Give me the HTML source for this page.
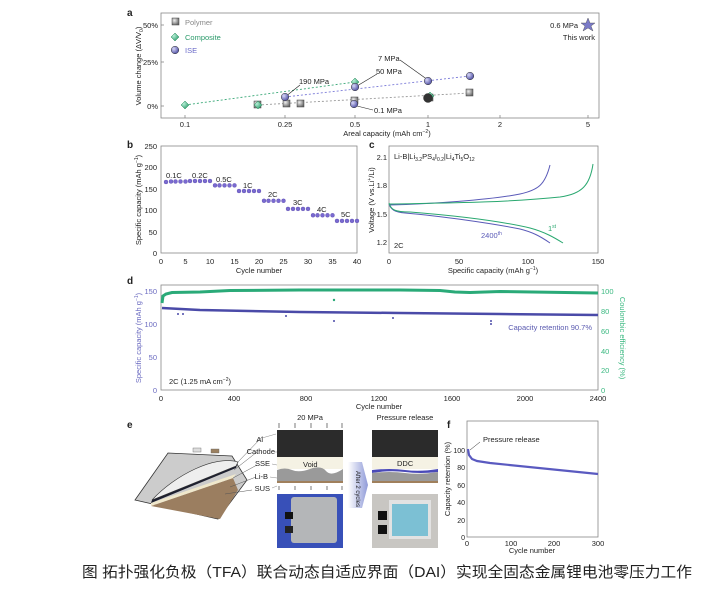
<!DOCTYPE html>
<html><head><meta charset="utf-8"><style>
html,body{margin:0;padding:0;background:#fff;}
svg{display:block;font-family:"Liberation Sans","Noto Sans CJK SC",sans-serif;}
</style></head><body>
<svg width="712" height="598" viewBox="0 0 712 598" xmlns="http://www.w3.org/2000/svg">
<defs>
<radialGradient id="gs" cx="0.35" cy="0.35" r="0.7"><stop offset="0" stop-color="#eee"/><stop offset="1" stop-color="#666"/></radialGradient>
<radialGradient id="gc" cx="0.35" cy="0.35" r="0.7"><stop offset="0" stop-color="#b8f0d8"/><stop offset="1" stop-color="#2a9a6a"/></radialGradient>
<radialGradient id="gi" cx="0.35" cy="0.35" r="0.7"><stop offset="0" stop-color="#d8d8f8"/><stop offset="1" stop-color="#4a4aa0"/></radialGradient>
<linearGradient id="arr" x1="0" x2="1"><stop offset="0" stop-color="#fff"/><stop offset="1" stop-color="#8f9ad8"/></linearGradient>
</defs>
<g font-size="8" fill="#222">
<!-- ===== panel a ===== -->
<text x="127" y="16" font-size="10" font-weight="bold">a</text>
<rect x="161" y="13" width="438" height="105" fill="none" stroke="#888" stroke-width="0.8"/>
<g font-size="7.5" text-anchor="end">
<text x="158" y="28">50%</text><text x="158" y="65">25%</text><text x="158" y="109">0%</text>
</g>
<g stroke="#888" stroke-width="0.8"><line x1="161" y1="25" x2="164" y2="25"/><line x1="161" y1="62" x2="164" y2="62"/><line x1="161" y1="106" x2="164" y2="106"/>
<line x1="185" y1="118" x2="185" y2="115"/><line x1="285" y1="118" x2="285" y2="115"/><line x1="355" y1="118" x2="355" y2="115"/><line x1="428" y1="118" x2="428" y2="115"/><line x1="500" y1="118" x2="500" y2="115"/><line x1="588" y1="118" x2="588" y2="115"/></g>
<g font-size="7.5" text-anchor="middle">
<text x="185" y="127">0.1</text><text x="285" y="127">0.25</text><text x="355" y="127">0.5</text><text x="428" y="127">1</text><text x="500" y="127">2</text><text x="588" y="127">5</text>
</g>
<text x="387" y="136" font-size="7.5" text-anchor="middle">Areal capacity (mAh cm<tspan dy="-3" font-size="5">−2</tspan><tspan dy="3">)</tspan></text>
<text transform="translate(141,66) rotate(-90)" font-size="7.5" text-anchor="middle">Volume change (ΔV/V<tspan dy="2" font-size="5">0</tspan><tspan dy="-2">)</tspan></text>
<g stroke-dasharray="2,2" stroke-width="0.9" fill="none">
<line x1="185" y1="105" x2="355" y2="82" stroke="#3aa878"/>
<line x1="285" y1="97" x2="470" y2="76" stroke="#7a7ad8"/>
<line x1="258" y1="105" x2="470" y2="93" stroke="#999"/>
</g>
<g stroke="#222" stroke-width="0.6"><line x1="285" y1="97" x2="300" y2="85"/><line x1="357" y1="86" x2="377" y2="74"/><line x1="400" y1="60" x2="428" y2="80"/><line x1="357" y1="106" x2="373" y2="110"/></g>
<g font-size="7.5"><text x="299" y="84">190 MPa</text><text x="376" y="74">50 MPa</text><text x="378" y="61">7 MPa</text><text x="374" y="113">0.1 MPa</text></g>
<g fill="url(#gs)" stroke="#444" stroke-width="0.5">
<rect x="283" y="100" width="7" height="7"/><rect x="297" y="100" width="7" height="7"/><rect x="351" y="97" width="7" height="7"/><rect x="466" y="89" width="7" height="7"/><rect x="426" y="94" width="7" height="7"/><rect x="254" y="101" width="7" height="7"/>
<rect x="172" y="18" width="7" height="7"/></g>
<g fill="url(#gc)" stroke="#2a8a5a" stroke-width="0.5">
<path d="M185 101 l4 4 -4 4 -4 -4z"/><path d="M258 101 l4 4 -4 4 -4 -4z"/><path d="M355 78 l4 4 -4 4 -4 -4z"/><path d="M430 92 l4 4 -4 4 -4 -4z"/><path d="M175 33 l4 4 -4 4 -4 -4z"/></g>
<g fill="url(#gi)" stroke="#333" stroke-width="0.5">
<circle cx="285" cy="97" r="3.8"/><circle cx="355" cy="87" r="3.8"/><circle cx="428" cy="81" r="3.8"/><circle cx="470" cy="76" r="3.8"/><circle cx="354" cy="104" r="3.8"/><circle cx="428" cy="98" r="4.5" fill="#333"/><circle cx="175" cy="50" r="3.8"/></g>
<text x="185" y="25" fill="#888" font-size="7.5">Polymer</text>
<text x="185" y="40" fill="#2a9a6a" font-size="7.5">Composite</text>
<text x="185" y="53" fill="#6a6ac8" font-size="7.5">ISE</text>
<path d="M588 18 l2 5 5 0 -4 3 2 5 -5 -3 -5 3 2 -5 -4 -3 5 0z" fill="#7a7ac8" stroke="#444" stroke-width="0.4"/>
<text x="578" y="28" font-size="7.5" text-anchor="end">0.6 MPa</text>
<text x="595" y="40" font-size="7.5" text-anchor="end">This work</text>

<!-- ===== panel b ===== -->
<text x="127" y="148" font-size="10" font-weight="bold">b</text>
<rect x="161" y="146" width="196" height="107" fill="none" stroke="#888" stroke-width="0.8"/>
<g font-size="7.5" text-anchor="end">
<text x="157" y="149">250</text><text x="157" y="170">200</text><text x="157" y="192">150</text><text x="157" y="213">100</text><text x="157" y="235">50</text><text x="157" y="256">0</text></g>
<g font-size="7.5" text-anchor="middle">
<text x="161" y="264">0</text><text x="185.5" y="264">5</text><text x="210" y="264">10</text><text x="234.5" y="264">15</text><text x="259" y="264">20</text><text x="283.5" y="264">25</text><text x="308" y="264">30</text><text x="332.5" y="264">35</text><text x="357" y="264">40</text></g>
<text x="259" y="273" font-size="7.5" text-anchor="middle">Cycle number</text>
<text transform="translate(141,200) rotate(-90)" font-size="7.5" text-anchor="middle">Specific capacity (mAh g<tspan dy="-3" font-size="5">−1</tspan><tspan dy="3">)</tspan></text>
<g fill="#7a6ad0" stroke="#4a3aa0" stroke-width="0.3">
<circle cx="166" cy="182" r="2"/><circle cx="171" cy="181.5" r="2"/><circle cx="175.5" cy="181.5" r="2"/><circle cx="180.5" cy="181.5" r="2"/><circle cx="185.5" cy="181.5" r="2"/>
<circle cx="190" cy="181" r="2"/><circle cx="195" cy="181" r="2"/><circle cx="200" cy="181" r="2"/><circle cx="205" cy="181" r="2"/><circle cx="210" cy="181" r="2"/>
<circle cx="215" cy="185.4" r="2"/><circle cx="219.5" cy="185.4" r="2"/><circle cx="224.5" cy="185.4" r="2"/><circle cx="229.5" cy="185.4" r="2"/><circle cx="234.5" cy="185.4" r="2"/>
<circle cx="239" cy="191" r="2"/><circle cx="244" cy="191" r="2"/><circle cx="249" cy="191" r="2"/><circle cx="254" cy="191" r="2"/><circle cx="259" cy="191" r="2"/>
<circle cx="264" cy="200.8" r="2"/><circle cx="268.5" cy="200.8" r="2"/><circle cx="273.5" cy="200.8" r="2"/><circle cx="278.5" cy="200.8" r="2"/><circle cx="283.5" cy="200.8" r="2"/>
<circle cx="288" cy="208.9" r="2"/><circle cx="293" cy="208.9" r="2"/><circle cx="298" cy="208.9" r="2"/><circle cx="303" cy="208.9" r="2"/><circle cx="308" cy="208.9" r="2"/>
<circle cx="313" cy="215.3" r="2"/><circle cx="317.5" cy="215.3" r="2"/><circle cx="322.5" cy="215.3" r="2"/><circle cx="327.5" cy="215.3" r="2"/><circle cx="332.5" cy="215.3" r="2"/>
<circle cx="337" cy="220.9" r="2"/><circle cx="342" cy="220.9" r="2"/><circle cx="347" cy="220.9" r="2"/><circle cx="352" cy="220.9" r="2"/><circle cx="357" cy="220.9" r="2"/>
</g>
<g font-size="7.5"><text x="166" y="178">0.1C</text><text x="192" y="178">0.2C</text><text x="216" y="182">0.5C</text><text x="243" y="188">1C</text><text x="268" y="197">2C</text><text x="293" y="205">3C</text><text x="317" y="212">4C</text><text x="341" y="217">5C</text></g>

<!-- ===== panel c ===== -->
<text x="369" y="148" font-size="10" font-weight="bold">c</text>
<rect x="389" y="146" width="209" height="107" fill="none" stroke="#888" stroke-width="0.8"/>
<g font-size="7.5" text-anchor="end"><text x="387" y="160">2.1</text><text x="387" y="188">1.8</text><text x="387" y="217">1.5</text><text x="387" y="245">1.2</text></g>
<g font-size="7.5" text-anchor="middle"><text x="389" y="264">0</text><text x="459" y="264">50</text><text x="528" y="264">100</text><text x="598" y="264">150</text></g>
<text x="493" y="273" font-size="7.5" text-anchor="middle">Specific capacity (mAh g<tspan dy="-3" font-size="5">−1</tspan><tspan dy="3">)</tspan></text>
<text transform="translate(374,200) rotate(-90)" font-size="7.5" text-anchor="middle">Voltage (V vs.Li<tspan dy="-3" font-size="5">+</tspan><tspan dy="3">/Li)</tspan></text>
<text x="394" y="159" font-size="7.5">Li-B|Li<tspan font-size="5" dy="2">3.2</tspan><tspan dy="-2">PS</tspan><tspan font-size="5" dy="2">4</tspan><tspan dy="-2">I</tspan><tspan font-size="5" dy="2">0.2</tspan><tspan dy="-2">|Li</tspan><tspan font-size="5" dy="2">4</tspan><tspan dy="-2">Ti</tspan><tspan font-size="5" dy="2">5</tspan><tspan dy="-2">O</tspan><tspan font-size="5" dy="2">12</tspan></text>
<g fill="none" stroke-width="1">
<path d="M389 205 C430 204 490 200 520 194 C538 190 545 185 550 165" stroke="#5a5ab8"/>
<path d="M389 204 C440 203 500 203 560 197 C582 194 590 185 593 164" stroke="#2aa870"/>
<path d="M389 204 C391 210 395 212 405 213 C440 216 490 223 520 229 C532 232 540 236 550 243" stroke="#5a5ab8"/>
<path d="M389 203 C391 210 395 212 410 212 C460 216 500 221 530 228 C545 232 555 238 563 243" stroke="#2aa870"/>
</g>
<text x="548" y="231" font-size="7.5" fill="#2aa870">1<tspan dy="-3" font-size="5">st</tspan></text>
<text x="481" y="238" font-size="7.5" fill="#5a5ab8">2400<tspan dy="-3" font-size="5">th</tspan></text>
<text x="394" y="248" font-size="7.5">2C</text>

<!-- ===== panel d ===== -->
<text x="127" y="284" font-size="10" font-weight="bold">d</text>
<rect x="161" y="285" width="437" height="105" fill="none" stroke="#888" stroke-width="0.8"/>
<g font-size="7.5" text-anchor="end" fill="#6a6ac0"><text x="157" y="294">150</text><text x="157" y="327">100</text><text x="157" y="360">50</text><text x="157" y="393">0</text></g>
<g font-size="7.5" fill="#3ab880"><text x="601" y="294">100</text><text x="601" y="314">80</text><text x="601" y="334">60</text><text x="601" y="354">40</text><text x="601" y="373">20</text><text x="601" y="393">0</text></g>
<g font-size="7.5" text-anchor="middle"><text x="161" y="401">0</text><text x="234" y="401">400</text><text x="306" y="401">800</text><text x="379" y="401">1200</text><text x="452" y="401">1600</text><text x="525" y="401">2000</text><text x="598" y="401">2400</text></g>
<text x="379" y="409" font-size="7.5" text-anchor="middle">Cycle number</text>
<text transform="translate(141,338) rotate(-90)" font-size="7.5" text-anchor="middle" fill="#6a6ac0">Specific capacity (mAh g<tspan dy="-3" font-size="5">−1</tspan><tspan dy="3">)</tspan></text>
<text transform="translate(620,338) rotate(90)" font-size="7.5" text-anchor="middle" fill="#3ab880">Coulombic efficiency (%)</text>
<path d="M162 303 L163 296 L166 294 L172 292.5 L200 292 L230 290.5 L300 290 L400 290 L440 290.5 L455 292 L470 292.5 L500 291.5 L598 293" fill="none" stroke="#2aaa78" stroke-width="3"/>
<circle cx="334" cy="300" r="1.2" fill="#2aaa78"/>
<path d="M162 308 L200 310 L300 312 L400 313 L500 314 L598 315" fill="none" stroke="#4a4aa8" stroke-width="2.5"/>
<g fill="#4a4aa8"><circle cx="178" cy="314" r="1"/><circle cx="183" cy="314" r="1"/><circle cx="286" cy="316" r="1"/><circle cx="334" cy="321" r="1"/><circle cx="393" cy="318" r="1"/><circle cx="491" cy="321" r="1"/><circle cx="491" cy="324" r="1"/></g>
<text x="592" y="330" font-size="7.5" text-anchor="end" fill="#5a5ab0">Capacity retention 90.7%</text>
<text x="169" y="384" font-size="7.5">2C (1.25 mA cm<tspan dy="-3" font-size="5">−2</tspan><tspan dy="3">)</tspan></text>

<!-- ===== panel e ===== -->
<text x="127" y="428" font-size="10" font-weight="bold">e</text>
<path d="M135 500 L168 453 L232 456 L247 480 L218 519 Z" fill="#ccc" stroke="#333" stroke-width="0.8"/>
<rect x="193" y="448" width="8" height="4" fill="#ddd" stroke="#666" stroke-width="0.4"/>
<rect x="211" y="449" width="8" height="4" fill="#9b8060" stroke="#666" stroke-width="0.4"/>
<path d="M151 506 L220 519 L238 490 L233 478 Z" fill="#9b7e60"/>
<path d="M151 506 L233 478 L236 474 L151 503 Z" fill="#f0e8cc"/>
<path d="M151 503 L236 468 L238 462 L152 500 Z" fill="#1e2030"/>
<path d="M152 500 C175 475 215 455 238 462 L236 466 Z" fill="#eee" stroke="#333" stroke-width="0.6"/>
<g stroke="#555" stroke-width="0.5"><line x1="237" y1="463" x2="262" y2="437"/><line x1="234" y1="470" x2="257" y2="452"/><line x1="233" y1="478" x2="257" y2="465"/><line x1="230" y1="487" x2="256" y2="477"/><line x1="225" y1="494" x2="252" y2="490"/></g>
<g font-size="7.5" text-anchor="end"><text x="263" y="442">Al</text><text x="275" y="454">Cathode</text><text x="270" y="466">SSE</text><text x="268" y="479">Li-B</text><text x="270" y="491">SUS</text></g>
<g stroke="#888" stroke-width="0.5"><line x1="262" y1="438" x2="276" y2="434"/><line x1="274" y1="452" x2="277" y2="452"/><line x1="272" y1="464" x2="277" y2="465"/><line x1="270" y1="477" x2="277" y2="478"/><line x1="272" y1="488" x2="277" y2="486"/></g>
<text x="310" y="420" font-size="7.5" text-anchor="middle">20 MPa</text>
<g stroke="#222" stroke-width="0.6"><line x1="279" y1="423" x2="279" y2="428"/><line x1="295" y1="423" x2="295" y2="428"/><line x1="311" y1="423" x2="311" y2="428"/><line x1="327" y1="423" x2="327" y2="428"/><line x1="342" y1="423" x2="342" y2="428"/>
<line x1="279" y1="486" x2="279" y2="490"/><line x1="295" y1="486" x2="295" y2="490"/><line x1="311" y1="486" x2="311" y2="490"/><line x1="327" y1="486" x2="327" y2="490"/><line x1="342" y1="486" x2="342" y2="490"/></g>
<rect x="277" y="430" width="66" height="27" fill="#2b2b2b"/>
<rect x="277" y="457" width="66" height="12" fill="#f5f2e4"/>
<path d="M277 470 Q285 467 292 470 T310 469 T326 471 T343 469 L343 481 L277 481 Z" fill="#9a9a9a"/>
<rect x="277" y="481" width="66" height="2" fill="#a0805c"/>
<text x="303" y="467" font-size="7.5">Void</text>
<rect x="277" y="494" width="66" height="54" fill="#3850b8"/>
<rect x="291" y="497" width="46" height="46" rx="3" fill="#b4b6b8"/>
<rect x="285" y="512" width="8" height="7" fill="#111"/><rect x="285" y="526" width="8" height="7" fill="#222"/>
<path d="M348 462 L362 462 L368 485 L362 508 L348 508 Z" fill="url(#arr)"/>
<text transform="translate(356,471) rotate(90)" font-size="6">After 2 cycles</text>
<text x="405" y="420" font-size="7.5" text-anchor="middle">Pressure release</text>
<rect x="372" y="430" width="66" height="27" fill="#2b2b2b"/>
<rect x="372" y="457" width="66" height="12" fill="#f5f2e4"/>
<path d="M372 470 Q390 468 405 470 T438 469 L438 472 Q420 474 405 472 T372 473 Z" fill="#4a4ab8"/>
<path d="M372 473 Q390 471 405 473 T438 472 L438 481 L372 481 Z" fill="#9a9a9a"/>
<rect x="372" y="481" width="66" height="2" fill="#a0805c"/>
<text x="397" y="466" font-size="7.5">DDC</text>
<rect x="372" y="494" width="66" height="54" fill="#c8c6c2"/>
<rect x="389" y="500" width="42" height="39" fill="#e2e2e2"/>
<rect x="392" y="504" width="36" height="32" fill="#7cc0d4"/>
<rect x="378" y="511" width="9" height="9" fill="#111"/><rect x="378" y="525" width="9" height="9" fill="#111"/>

<!-- ===== panel f ===== -->
<text x="447" y="428" font-size="10" font-weight="bold">f</text>
<rect x="467" y="421" width="131" height="116" fill="none" stroke="#888" stroke-width="0.8"/>
<g font-size="7" text-anchor="end"><text x="465" y="453">100</text><text x="465" y="470">80</text><text x="465" y="488">60</text><text x="465" y="505">40</text><text x="465" y="523">20</text><text x="465" y="540">0</text></g>
<g font-size="7.5" text-anchor="middle"><text x="467" y="546">0</text><text x="511" y="546">100</text><text x="554" y="546">200</text><text x="598" y="546">300</text></g>
<text x="532" y="553" font-size="7.5" text-anchor="middle">Cycle number</text>
<text transform="translate(450,479) rotate(-90)" font-size="7.5" text-anchor="middle">Capacity retention (%)</text>
<path d="M468 449 L469 455 L472 459 L477 461 L490 463 L598 474" fill="none" stroke="#5a5ac0" stroke-width="2.2"/>
<line x1="470" y1="450" x2="480" y2="442" stroke="#222" stroke-width="0.5"/>
<text x="483" y="442" font-size="7.5">Pressure release</text>
</g>
<text x="82" y="577" font-size="15" textLength="610" lengthAdjust="spacingAndGlyphs" fill="#222">图 拓扑强化负极（TFA）联合动态自适应界面（DAI）实现全固态金属锂电池零压力工作</text>
</svg>
</body></html>
